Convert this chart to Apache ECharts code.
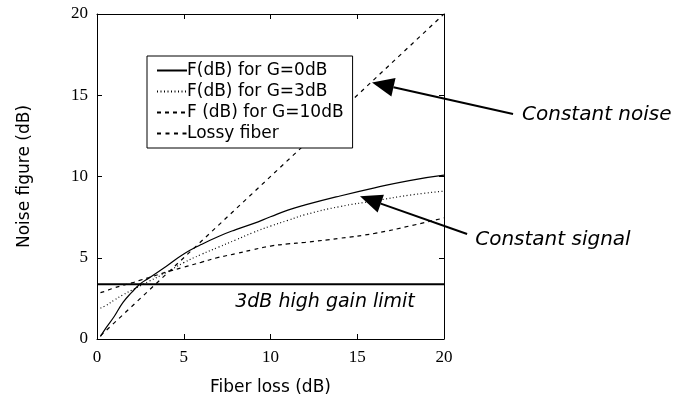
<!DOCTYPE html>
<html>
<head>
<meta charset="utf-8">
<script src="https://cdn.jsdelivr.net/npm/echarts@6/dist/echarts.min.js"></script>
<style>
html,body{margin:0;padding:0;background:#fff;}
#chart{width:677px;height:401px;}
</style>
</head>
<body>
<div id="chart"></div>
<script>
// Fiber loss (dB) sample points
var lossX = [0.2, 0.5, 1, 1.5, 2, 2.5, 3, 4, 5, 6, 7, 8, 9, 10, 11, 12, 14, 16, 18, 20];
// Noise figure (dB) curves
var fG0  = [0.15, 0.65, 1.4, 2.25, 2.87, 3.4, 3.76, 4.48, 5.23, 5.81, 6.31, 6.73, 7.1, 7.52, 7.93, 8.25, 8.8, 9.3, 9.75, 10.08];
var fG3  = [1.9, 2.05, 2.4, 2.72, 3.0, 3.28, 3.55, 4.1, 4.7, 5.2, 5.65, 6.1, 6.55, 6.95, 7.3, 7.65, 8.15, 8.5, 8.85, 9.1];
var fG10 = [2.85, 2.95, 3.15, 3.3, 3.45, 3.62, 3.78, 4.12, 4.42, 4.72, 5.02, 5.25, 5.5, 5.72, 5.85, 5.95, 6.2, 6.5, 6.95, 7.45];
var lossyX = [0.2, 20];
var lossyY = [0.2, 20];
var limitValue = 3.37;
var seriesNames = ['F(dB) for G=0dB', 'F(dB) for G=3dB', 'F (dB) for G=10dB', 'Lossy fiber'];
var xTicks = [0, 5, 10, 15, 20];
var yTicks = [0, 5, 10, 15, 20];

function pairs(xs, ys) { return xs.map(function (x, i) { return [x, ys[i]]; }); }

var chart = echarts.init(document.getElementById('chart'), null, {renderer: 'canvas'});

var tickLabelStyle = {fontFamily: 'Liberation Serif', fontSize: 17, color: '#000'};
function axisBase(pos, showLabel) {
  return {
    type: 'value', min: xTicks[0], max: xTicks[xTicks.length - 1], interval: 5,
    position: pos,
    axisLine: {show: true, onZero: false, lineStyle: {color: '#000', width: 1}},
    axisTick: {show: true, inside: true, length: 5, lineStyle: {color: '#000', width: 1}},
    axisLabel: Object.assign({show: showLabel, margin: 9}, tickLabelStyle),
    splitLine: {show: false}
  };
}

var xMain = axisBase('bottom', true);
xMain.name = 'Fiber loss (dB)';
xMain.nameLocation = 'middle';
xMain.nameGap = 40;
xMain.nameTextStyle = {fontFamily: 'DejaVu Sans', fontSize: 17, color: '#000'};
xMain.axisLabel.margin = 10;
var yMain = axisBase('left', true);
yMain.min = yTicks[0]; yMain.max = yTicks[yTicks.length - 1];
yMain.name = 'Noise figure (dB)';
yMain.nameLocation = 'middle';
yMain.nameGap = 64;
yMain.nameTextStyle = {fontFamily: 'DejaVu Sans', fontSize: 17, color: '#000'};
var xTop = axisBase('top', false);
var yRight = axisBase('right', false);

var option = {
  animation: false,
  backgroundColor: '#fff',
  grid: {left: 97, right: 233, top: 14, bottom: 59, containLabel: false},
  xAxis: [xMain, xTop],
  yAxis: [yMain, yRight],
  legend: {
    data: seriesNames,
    orient: 'vertical',
    left: 147, top: 56,
    itemWidth: 30, itemHeight: 14, itemGap: 4,
    padding: [6, 9, 6, 9],
    borderColor: '#000', borderWidth: 1,
    backgroundColor: '#fff',
    itemStyle: {color: 'rgba(0,0,0,0)', borderColor: 'rgba(0,0,0,0)', borderWidth: 0, opacity: 0},
    textStyle: {fontFamily: 'DejaVu Sans', fontSize: 17, color: '#000', padding: [0, 0, 0, -5]},
    selectedMode: false
  },
  series: [
    {name: seriesNames[0], type: 'line', data: pairs(lossX, fG0), symbol: 'none', smooth: true,
     lineStyle: {color: '#000', width: 1.2, type: 'solid'}, itemStyle: {color: '#000'}, z: 3},
    {name: seriesNames[1], type: 'line', data: pairs(lossX, fG3), symbol: 'none', smooth: true,
     lineStyle: {color: '#000', width: 1.2, type: [1, 2.5]}, itemStyle: {color: '#000'}, z: 3},
    {name: seriesNames[2], type: 'line', data: pairs(lossX, fG10), symbol: 'none', smooth: true,
     lineStyle: {color: '#000', width: 1.2, type: [4, 4]}, itemStyle: {color: '#000'}, z: 3},
    {name: seriesNames[3], type: 'line', data: pairs(lossyX, lossyY), symbol: 'none',
     lineStyle: {color: '#000', width: 1.2, type: [4, 4.5]}, itemStyle: {color: '#000'}, z: 2},
    {name: 'limit', type: 'line', data: [[xTicks[0], limitValue], [xTicks[xTicks.length - 1], limitValue]], symbol: 'none',
     lineStyle: {color: '#000', width: 2}, z: 4, silent: true}
  ]
};
chart.setOption(option);

// Annotation positions (data units)
var annotations = [
  {text: 'Constant noise', tail: [23.98, 13.84], tip: [15.85, 15.79], label: [24.5, 13.8]},
  {text: 'Constant signal', tail: [21.33, 6.46], tip: [15.16, 8.78], label: [21.8, 6.1]}
];
var limitLabel = {text: '3dB high gain limit', at: [13.14, 2.28]};

function px(p) { return chart.convertToPixel({gridIndex: 0}, p); }
var graphics = [];
annotations.forEach(function (a) {
  var t = px(a.tail), h = px(a.tip);
  var dx = h[0] - t[0], dy = h[1] - t[1], L = Math.sqrt(dx * dx + dy * dy);
  var ux = dx / L, uy = dy / L, nx = -uy, ny = ux;
  var len = 22, w = 19;
  var bx = h[0] - ux * len, by = h[1] - uy * len;
  graphics.push({type: 'line', shape: {x1: t[0], y1: t[1], x2: bx, y2: by}, style: {stroke: '#000', lineWidth: 2}, z: 10});
  graphics.push({type: 'polygon', shape: {points: [[h[0], h[1]], [bx + nx * w / 2, by + ny * w / 2], [bx - nx * w / 2, by - ny * w / 2]]}, style: {fill: '#000'}, z: 10});
  var lp = px(a.label);
  graphics.push({type: 'text', x: lp[0], y: lp[1], style: {text: a.text, font: 'italic 20px "DejaVu Sans"', fill: '#000', textAlign: 'left', textVerticalAlign: 'middle'}, z: 10});
});
var lp2 = px(limitLabel.at);
graphics.push({type: 'text', x: lp2[0], y: lp2[1], style: {text: limitLabel.text, font: 'italic 19px "DejaVu Sans"', fill: '#000', textAlign: 'center', textVerticalAlign: 'middle'}, z: 10});
chart.setOption({graphic: graphics});
</script>
</body>
</html>
